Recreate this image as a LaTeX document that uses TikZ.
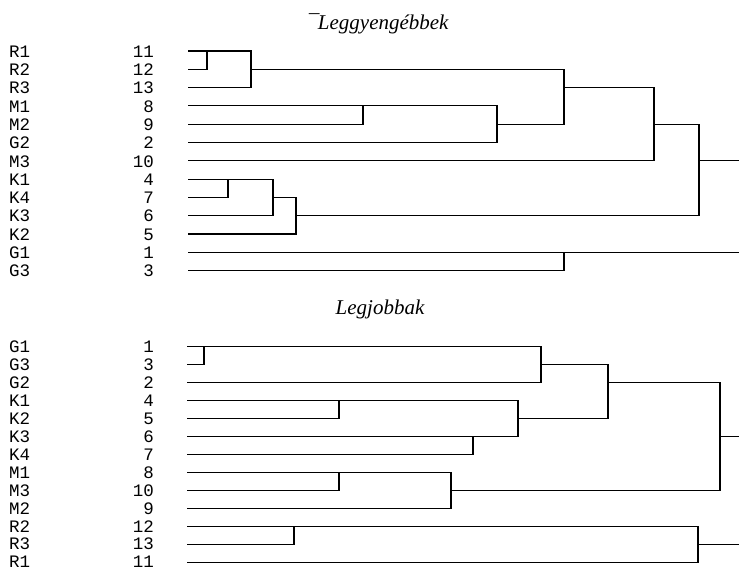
\documentclass[tikz,border=0pt]{standalone}
\usepackage{fontspec}
\setmainfont{Liberation Serif}
\newfontfamily\leafmono{Liberation Mono}
\usetikzlibrary{calc}

\tikzset{
  leaf/.style={font=\leafmono\fontsize{17.5}{17.5}\selectfont, inner sep=0pt},
  caption/.style={font=\itshape\fontsize{21}{21}\selectfont, inner sep=0pt, anchor=base},
  link/.style={draw=black, line width=1.1pt},
}

\begin{document}
\begin{tikzpicture}[x=1pt, y=-1pt]
  \useasboundingbox (0,0) rectangle (739,571);

  \node [caption] (wtitle) at (378,29) {¯Leggyengébbek};
  \node [caption] (btitle) at (380,314) {Legjobbak};

  % leaves of the upper tree
  \foreach \lab/\num [count=\i] in {R1/11,R2/12,R3/13,M1/8,M2/9,G2/2,M3/10,K1/4,K4/7,K3/6,K2/5,G1/1,G3/3} {
    \node [leaf, anchor=west] (w\lab) at (9,{51+18.3*(\i-1)+0.5}) {\lab};
    \node [leaf, anchor=east] (w\lab-n) at (154,{51+18.3*(\i-1)+0.5}) {\num};
    \coordinate (w\lab-s) at (188,{51+18.3*(\i-1)});
  }

  % leaves of the lower tree
  \foreach \lab/\num [count=\i] in {G1/1,G3/3,G2/2,K1/4,K2/5,K3/6,K4/7,M1/8,M3/10,M2/9,R2/12,R3/13,R1/11} {
    \node [leaf, anchor=west] (b\lab) at (9,{346.7+17.95*(\i-1)}) {\lab};
    \node [leaf, anchor=east] (b\lab-n) at (154,{346.7+17.95*(\i-1)}) {\num};
    \coordinate (b\lab-s) at (187,{346.7+17.95*(\i-1)});
  }

  % merges, upper tree
  \coordinate (w1) at (207,0 |- wR1-s);
  \coordinate (w2) at (251,0 |- wR2-s);
  \coordinate (w3) at (363,0 |- wM1-s);
  \coordinate (w4) at (497,0 |- wM2-s);
  \coordinate (w5) at (564,0 |- wR3-s);
  \coordinate (w6) at (654,0 |- wM2-s);
  \coordinate (w7) at (228,0 |- wK1-s);
  \coordinate (w8) at (273,0 |- wK4-s);
  \coordinate (w9) at (296,0 |- wK3-s);
  \coordinate (w10) at (699,0 |- wM3-s);
  \coordinate (w11) at (564,0 |- wG1-s);
  \coordinate (wend1) at (739,0 |- w10);
  \coordinate (wend2) at (739,0 |- w11);

  \draw [link] (wR1-s) -| (w1);
  \draw [link] (wR2-s) -| (w1);
  \draw [link] (w1) -| (w2);
  \draw [link] (wR3-s) -| (w2);
  \draw [link] (wM1-s) -| (w3);
  \draw [link] (wM2-s) -| (w3);
  \draw [link] (w3) -| (w4);
  \draw [link] (wG2-s) -| (w4);
  \draw [link] (w2) -| (w5);
  \draw [link] (w4) -| (w5);
  \draw [link] (w5) -| (w6);
  \draw [link] (wM3-s) -| (w6);
  \draw [link] (wK1-s) -| (w7);
  \draw [link] (wK4-s) -| (w7);
  \draw [link] (w7) -| (w8);
  \draw [link] (wK3-s) -| (w8);
  \draw [link] (w8) -| (w9);
  \draw [link] (wK2-s) -| (w9);
  \draw [link] (w6) -| (w10);
  \draw [link] (w9) -| (w10);
  \draw [link] (w10) -- (wend1);
  \draw [link] (wG1-s) -| (w11);
  \draw [link] (wG3-s) -| (w11);
  \draw [link] (w11) -- (wend2);

  % merges, lower tree
  \coordinate (b1) at (204,0 |- bG1-s);
  \coordinate (b2) at (541,0 |- bG3-s);
  \coordinate (b3) at (339,0 |- bK1-s);
  \coordinate (b4) at (473,0 |- bK3-s);
  \coordinate (b5) at (518,0 |- bK2-s);
  \coordinate (b6) at (608,0 |- bG2-s);
  \coordinate (b7) at (339,0 |- bM1-s);
  \coordinate (b8) at (451,0 |- bM3-s);
  \coordinate (b9) at (720,0 |- bK3-s);
  \coordinate (b10) at (294,0 |- bR2-s);
  \coordinate (b11) at (698,0 |- bR3-s);
  \coordinate (bend1) at (739,0 |- b9);
  \coordinate (bend2) at (739,0 |- b11);

  \draw [link] (bG1-s) -| (b1);
  \draw [link] (bG3-s) -| (b1);
  \draw [link] (b1) -| (b2);
  \draw [link] (bG2-s) -| (b2);
  \draw [link] (bK1-s) -| (b3);
  \draw [link] (bK2-s) -| (b3);
  \draw [link] (bK3-s) -| (b4);
  \draw [link] (bK4-s) -| (b4);
  \draw [link] (b3) -| (b5);
  \draw [link] (b4) -| (b5);
  \draw [link] (b2) -| (b6);
  \draw [link] (b5) -| (b6);
  \draw [link] (bM1-s) -| (b7);
  \draw [link] (bM3-s) -| (b7);
  \draw [link] (b7) -| (b8);
  \draw [link] (bM2-s) -| (b8);
  \draw [link] (b6) -| (b9);
  \draw [link] (b8) -| (b9);
  \draw [link] (b9) -- (bend1);
  \draw [link] (bR2-s) -| (b10);
  \draw [link] (bR3-s) -| (b10);
  \draw [link] (b10) -| (b11);
  \draw [link] (bR1-s) -| (b11);
  \draw [link] (b11) -- (bend2);
\end{tikzpicture}
\end{document}
